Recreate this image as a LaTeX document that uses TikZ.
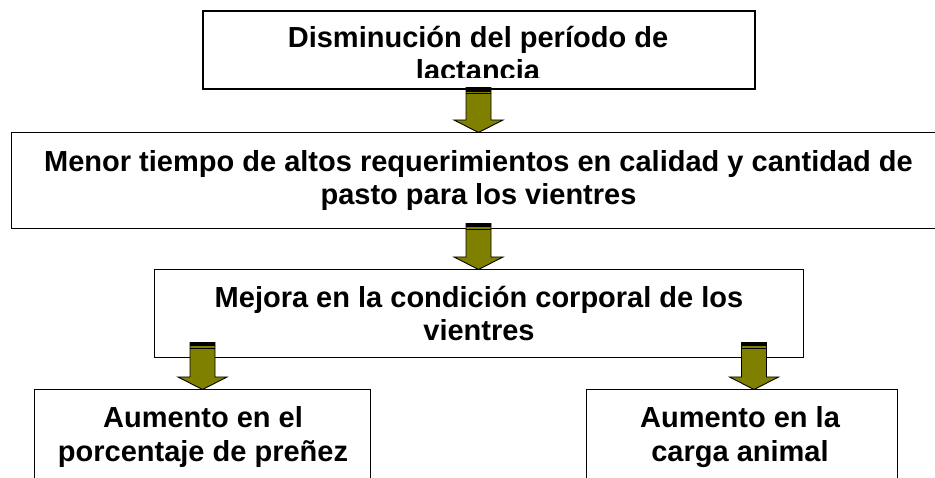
\documentclass[tikz,border=0pt]{standalone}
\usepackage{fontspec}
\setmainfont{Liberation Sans}
\usetikzlibrary{calc}
\definecolor{olivefill}{RGB}{128,128,0}
\tikzset{
  box/.style={draw=black, line width=1pt, fill=white, rectangle, inner sep=0pt},
  txt/.style={anchor=base, inner sep=0pt, font=\fontsize{29}{33}\selectfont\bfseries},
}
\newcommand{\blockarrow}[2]{%
  \filldraw[draw=black, fill=olivefill, line width=0.9pt, line join=miter]
    let \p1=#1, \p2=#2 in
    (\x1-12.5pt,\y2) -- (\x1+12.5pt,\y2) -- (\x1+12.5pt,\y1+12.5pt) -- (\x1+24.5pt,\y1+12.5pt)
    -- (\x1,\y1) -- (\x1-24.5pt,\y1+12.5pt) -- (\x1-12.5pt,\y1+12.5pt) -- cycle;
  \fill[black] let \p1=#1, \p2=#2 in (\x1-12.5pt,\y2) rectangle (\x1+12.5pt,\y2-4pt);
  \draw[black, line width=1pt] let \p1=#1, \p2=#2 in (\x1-12.5pt,\y2-6pt) -- (\x1+12.5pt,\y2-6pt);
}
\begin{document}
\begin{tikzpicture}[x=1pt, y=-1pt]
\useasboundingbox (0,0) rectangle (935,478);
\clip (0,0) rectangle (935,478);
\fill[white] (0,0) rectangle (935,478);
% boxes
\node[box, line width=1.3pt, minimum width=552pt, minimum height=78pt] (b1) at (479,50) {};
\node[box, minimum width=935pt, minimum height=96pt] (b2) at (478.5,181) {};
\node[box, minimum width=649pt, minimum height=88pt] (b3) at (478.5,314) {};
\node[box, minimum width=336pt, minimum height=110pt] (b4) at (202.5,445) {};
\node[box, minimum width=311pt, minimum height=110pt] (b5) at (742,445) {};
% texts
\begin{scope}
\clip (203,11) rectangle (755,78);
\node[txt] (t1a) at (478,48) {Disminución del período de};
\node[txt] (t1b) at (478,81) {lactancia};
\end{scope}
\node[txt] (t2a) at (478.5,171.5) {Menor tiempo de altos requerimientos en calidad y cantidad de};
\node[txt] (t2b) at (478.5,204.5) {pasto para los vientres};
\node[txt] (t3a) at (479,308) {Mejora en la condición corporal de los};
\node[txt] (t3b) at (479,341) {vientres};
\node[txt] (t4a) at (203,428) {Aumento en el};
\node[txt] (t4b) at (203,461) {porcentaje de preñez};
\node[txt] (t5a) at (740,428) {Aumento en la};
\node[txt] (t5b) at (740,461) {carga animal};
% arrows
\blockarrow{(b2.north)}{($(b1.south)+(0,-2)$)}
\blockarrow{(b3.north)}{($(b2.south)+(0,-6)$)}
\blockarrow{(b4.north)}{($(b3.south)+(0,-16)$)}
\blockarrow{($(b5.north)+(12,0)$)}{($(b3.south)+(0,-16)$)}
\end{tikzpicture}
\end{document}
